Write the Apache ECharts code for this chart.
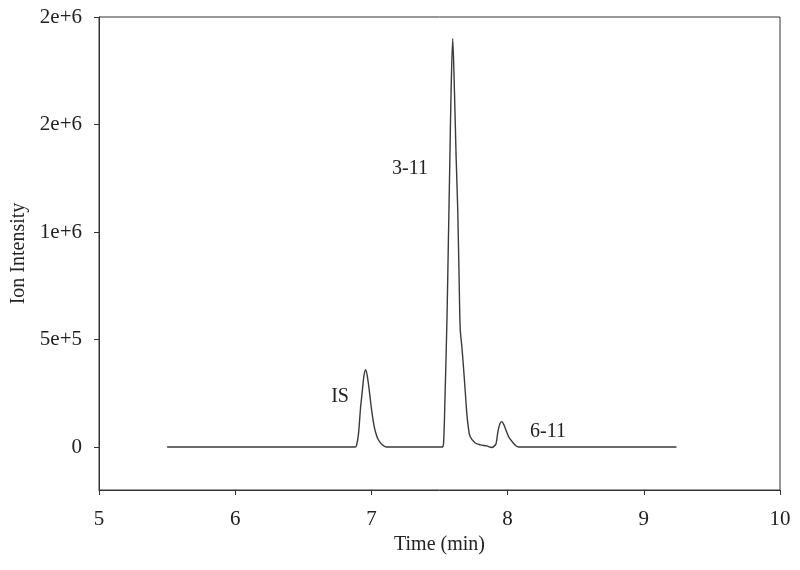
<!DOCTYPE html>
<html>
<head>
<meta charset="utf-8">
<script src="https://cdn.jsdelivr.net/npm/echarts@6/dist/echarts.min.js"></script>
<style>
  html, body { margin: 0; padding: 0; background: #fff; }
  #chart { width: 800px; height: 570px; }
</style>
</head>
<body>
<div id="chart"></div>
<script>
// retention time (min) and ion intensity
const times = [
  5.5, 6.88, 6.89, 6.905, 6.92, 6.93, 6.945, 6.958, 6.97, 6.985, 7.0, 7.015, 7.03, 7.05, 7.08, 7.11,
  7.52, 7.53, 7.54, 7.555, 7.565, 7.575, 7.585, 7.597, 7.61, 7.622, 7.634, 7.645, 7.652, 7.665,
  7.675, 7.69, 7.7, 7.712, 7.724, 7.76, 7.8, 7.846, 7.883, 7.9, 7.915, 7.93, 7.945, 7.958, 7.975,
  7.99, 8.01, 8.04, 8.06, 8.08, 9.24
];
const intensity = [
  0, 0, 5000, 60000, 180000, 240000, 330000, 360000, 330000, 260000, 180000, 115000, 70000, 35000, 10000, 0,
  0, 20000, 220000, 600000, 950000, 1300000, 1650000, 1900000, 1650000, 1350000, 1100000, 750000, 550000, 460000,
  380000, 250000, 160000, 90000, 50000, 20000, 10000, 5000, -2000, 3000, 15000, 75000, 110000, 118000, 100000,
  75000, 45000, 20000, 6000, 0, 0
];
// peak labels: text, time, intensity
const peakNames = ["IS", "3-11", "6-11"];
const peakX = [6.77, 7.283, 8.297];
const peakY = [233000, 1293000, 70000];

const xTicks = [5, 6, 7, 8, 9, 10];
const yTicks = [0, 500000, 1000000, 1500000, 2000000];
const yTickLabels = ["0", "5e+5", "1e+6", "2e+6", "2e+6"];

let chart = echarts.init(document.getElementById("chart"));
const font = "Liberation Serif";

let points = times.map((t, i) => [t, intensity[i]]);

let option = {
  backgroundColor: "#fff",
  animation: false,
  grid: {
    left: 99,
    right: 20,
    top: 17,
    bottom: 80,
    show: true,
    borderColor: "#333",
    borderWidth: 1
  },
  xAxis: {
    type: "value",
    min: 5,
    max: 10,
    name: "Time (min)",
    nameLocation: "middle",
    nameGap: 41,
    nameTextStyle: { fontFamily: font, fontSize: 20, color: "#222" },
    axisLine: { show: true, onZero: false, lineStyle: { color: "#333", width: 1 } },
    axisTick: { show: true, length: 5, lineStyle: { color: "#333" }, customValues: xTicks },
    axisLabel: { fontFamily: font, fontSize: 21, color: "#222", margin: 19, customValues: xTicks },
    splitLine: { show: false }
  },
  yAxis: {
    type: "value",
    min: -200000,
    max: 2000000,
    name: "Ion Intensity",
    nameLocation: "middle",
    nameGap: 70,
    nameTextStyle: { fontFamily: font, fontSize: 20, color: "#222" },
    axisLine: { show: true, onZero: false, lineStyle: { color: "#333", width: 1 } },
    axisTick: { show: true, length: 5, lineStyle: { color: "#333" }, customValues: yTicks },
    axisLabel: {
      fontFamily: font,
      fontSize: 21,
      color: "#222",
      margin: 17,
      customValues: yTicks,
      formatter: function (v) {
        let i = yTicks.indexOf(v);
        return i >= 0 ? yTickLabels[i] : "";
      }
    },
    splitLine: { show: false }
  },
  series: [
    {
      type: "line",
      data: points,
      showSymbol: false,
      smooth: 0.3,
      lineStyle: { color: "#3a3a3a", width: 1.4 },
      markPoint: {
        symbol: "circle",
        symbolSize: 0,
        label: {
          show: true,
          position: "inside",
          fontFamily: font,
          fontSize: 20,
          color: "#222",
          formatter: function (p) { return p.name; }
        },
        data: peakNames.map((n, i) => ({ name: n, coord: [peakX[i], peakY[i]] }))
      }
    }
  ]
};

chart.setOption(option);
window.onresize = function () {
  chart.resize();
};
</script>
</body>
</html>
